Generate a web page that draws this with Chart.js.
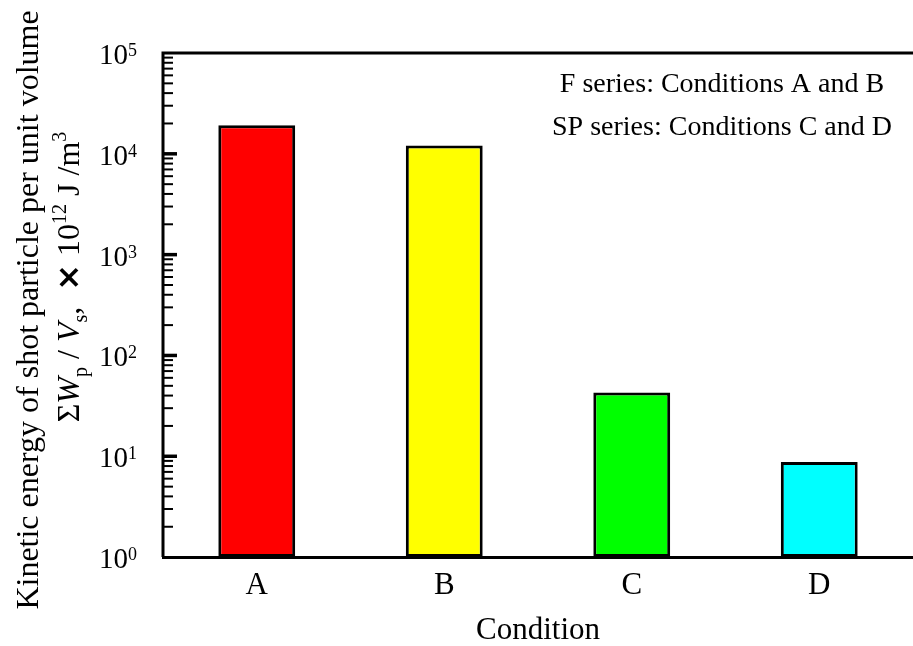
<!DOCTYPE html>
<html>
<head>
<meta charset="utf-8">
<script src="https://cdn.jsdelivr.net/npm/chart.js@4.4.1/dist/chart.umd.min.js"></script>
<style>
  body { margin: 0; background: #fff; }
</style>
</head>
<body>
<canvas id="myChart" width="913" height="646"></canvas>
<script>
var conditions = ['A', 'B', 'C', 'D'];
var energy = [19200, 12100, 43, 8.8];
var barColors = ['#ff0000', '#ffff00', '#00ff00', '#00ffff'];
var decades = [1, 10, 100, 1000, 10000, 100000];
var noteLines = ['F series: Conditions A and B', 'SP series: Conditions C and D'];
var yTitle1 = 'Kinetic energy of shot particle per unit volume';
var xTitle = 'Condition';

var serif = "'Liberation Serif', 'Times New Roman', serif";

// draw a list of text pieces one after another, centred on x
function richLine(ctx, parts, cx, y) {
  var total = 0;
  parts.forEach(function (p) { ctx.font = p.font; total += ctx.measureText(p.t).width; });
  var x = cx - total / 2;
  ctx.textAlign = 'left';
  ctx.textBaseline = 'alphabetic';
  parts.forEach(function (p) {
    ctx.font = p.font;
    ctx.fillText(p.t, x, y + (p.dy || 0));
    x += ctx.measureText(p.t).width;
  });
}

var framePlugin = {
  id: 'frame',
  afterDraw: function (chart) {
    var ctx = chart.ctx;
    var a = chart.chartArea;
    var ys = chart.scales.y;
    ctx.save();
    ctx.strokeStyle = '#000';
    ctx.fillStyle = '#000';

    // left and top frame
    ctx.lineWidth = 3;
    ctx.beginPath();
    ctx.moveTo(a.left, a.bottom);
    ctx.lineTo(a.left, a.top);
    ctx.lineTo(chart.width, a.top);
    ctx.stroke();

    // inward log ticks
    for (var k = 0; k < decades.length - 1; k++) {
      for (var m = 2; m <= 9; m++) {
        var yy = ys.getPixelForValue(m * decades[k]);
        ctx.lineWidth = 2;
        ctx.beginPath();
        ctx.moveTo(a.left, yy);
        ctx.lineTo(a.left + 10, yy);
        ctx.stroke();
      }
      if (k > 0) {
        var yd = ys.getPixelForValue(decades[k]);
        ctx.lineWidth = 3.5;
        ctx.beginPath();
        ctx.moveTo(a.left, yd);
        ctx.lineTo(a.left + 14, yd);
        ctx.stroke();
      }
    }

    // tick labels 10^n
    decades.forEach(function (d) {
      var y = ys.getPixelForValue(d);
      var ex = String(Math.round(Math.log10(d)));
      ctx.textBaseline = 'alphabetic';
      ctx.textAlign = 'right';
      ctx.font = '29px ' + serif;
      ctx.fillText('10', a.left - 35, y + 11);
      ctx.textAlign = 'left';
      ctx.font = '18px ' + serif;
      ctx.fillText(ex, a.left - 35, y + 3);
    });

    // note in the plot
    ctx.textAlign = 'center';
    ctx.textBaseline = 'alphabetic';
    ctx.font = '28px ' + serif;
    ctx.fillText(noteLines[0], 722, a.top + 39);
    ctx.fillText(noteLines[1], 722, a.top + 82);

    // y axis title, two rotated lines
    ctx.save();
    ctx.translate(38, 310);
    ctx.rotate(-Math.PI / 2);
    ctx.textAlign = 'center';
    ctx.font = '32px ' + serif;
    ctx.fillText(yTitle1, 0, 0);
    ctx.restore();

    ctx.save();
    ctx.translate(79, 277);
    ctx.rotate(-Math.PI / 2);
    var big = '32px ' + serif;
    var ital = 'italic 32px ' + serif;
    var small = '20px ' + serif;
    richLine(ctx, [
      { t: '\u03A3', font: big },
      { t: 'W', font: ital },
      { t: 'p', font: small, dy: 8 },
      { t: ' / ', font: big },
      { t: 'V', font: ital },
      { t: 's', font: small, dy: 8 },
      { t: ',  ', font: big },
      { t: '\u00D7', font: "bold 32px 'DejaVu Sans', sans-serif" },
      { t: ' 10', font: big },
      { t: '12', font: small, dy: -13 },
      { t: ' J /m', font: big },
      { t: '3', font: small, dy: -13 }
    ], 0, 0);
    ctx.restore();

    ctx.restore();
  }
};

var ctx = document.getElementById('myChart').getContext('2d');
var myChart = new Chart(ctx, {
  type: 'bar',
  data: {
    labels: conditions,
    datasets: [{
      label: 'energy',
      data: energy,
      backgroundColor: barColors,
      borderColor: '#000',
      borderWidth: 3,
      borderSkipped: false,
      barPercentage: 0.41,
      categoryPercentage: 1
    }]
  },
  options: {
    responsive: false,
    animation: false,
    devicePixelRatio: 1,
    layout: { padding: { left: 163, top: 53, right: 0, bottom: 0 } },
    plugins: { legend: { display: false }, tooltip: { enabled: false } },
    scales: {
      x: {
        grid: { display: false, drawTicks: false },
        border: { display: true, color: '#000', width: 3 },
        ticks: { color: '#000', font: { family: serif, size: 31, lineHeight: 0.9 }, padding: 15 },
        title: {
          display: true, text: xTitle, color: '#000',
          font: { family: serif, size: 31, lineHeight: 1 }, padding: { top: 0, bottom: 0 }
        }
      },
      y: { type: 'logarithmic', min: 1, max: 100000, display: false }
    }
  },
  plugins: [framePlugin]
});
</script>
</body>
</html>
